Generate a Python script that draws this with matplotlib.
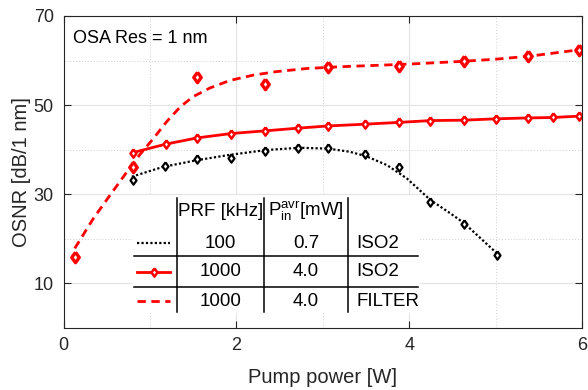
import matplotlib
matplotlib.use('Agg')
import matplotlib.pyplot as plt
from matplotlib.ticker import MultipleLocator

plt.rcParams['font.family'] = ['Liberation Sans', 'DejaVu Sans']
plt.rcParams['mathtext.fontset'] = 'custom'
plt.rcParams['mathtext.rm'] = 'Liberation Sans'
plt.rcParams['mathtext.it'] = 'Liberation Sans'

# measured points
p_iso2_100 = [0.80, 1.17, 1.54, 1.94, 2.33, 2.71, 3.06, 3.49, 3.88, 4.24, 4.63, 5.01]
osnr_iso2_100 = [33.1, 36.3, 37.9, 38.1, 39.7, 40.3, 40.3, 39.0, 36.1, 28.3, 23.3, 16.3]

p_iso2_1000 = [0.80, 1.18, 1.54, 1.94, 2.33, 2.71, 3.06, 3.49, 3.88, 4.24, 4.63, 5.00, 5.37, 5.66, 5.96]
osnr_iso2_1000 = [39.3, 41.2, 42.6, 43.6, 44.2, 44.8, 45.3, 45.7, 46.1, 46.5, 46.6, 46.9, 47.1, 47.2, 47.5]

p_filter = [0.13, 0.80, 1.54, 2.33, 3.06, 3.88, 4.63, 5.37, 5.96]
osnr_filter = [15.9, 36.1, 56.3, 54.7, 58.6, 58.8, 59.9, 61.0, 62.4]

# fitted curves
fit_x_100 = [0.79, 1.15, 1.54, 1.92, 2.35, 2.73, 3.06, 3.31, 3.50, 3.74, 3.97, 4.24, 4.47, 4.63, 5.01, 5.05]
fit_y_100 = [33.9, 36.1, 37.6, 38.8, 39.9, 40.4, 40.2, 39.5, 38.5, 36.5, 33.5, 28.7, 25.7, 23.5, 16.7, 15.5]

fit_x_filter = [0.13, 0.345, 0.54, 0.79, 0.88, 1.04, 1.19, 1.35, 1.50, 1.69, 1.92, 2.19,
                2.46, 2.81, 3.2, 3.6, 4.0, 4.6, 5.0, 5.4, 5.96]
fit_y_filter = [17.8, 24.5, 29.8, 36.5, 38.8, 42.5, 46.2, 49.6, 51.9, 53.8, 55.5, 56.7,
                57.5, 58.2, 58.6, 58.9, 59.2, 59.8, 60.3, 61.0, 62.4]

# table contents
prf = ['100', '1000', '1000']
p_avr = ['0.7', '4.0', '4.0']
setup = ['ISO2', 'ISO2', 'FILTER']

dia = [(0, 1), (0.72, 0), (0, -1), (-0.72, 0), (0, 1)]
axc = '#262626'

fig = plt.figure(figsize=(5.88, 3.90), dpi=100)
ax = fig.add_axes([0.108, 0.160, 0.8826, 0.799])

ax.plot(fit_x_100, fit_y_100, color='k', ls=(0, (1, 1)), lw=1.6)
ax.plot(p_iso2_100, osnr_iso2_100, ls='none', marker=dia, ms=6,
        mfc='white', mec='k', mew=1.6)

ax.plot(p_iso2_1000, osnr_iso2_1000, color='red', lw=2, marker=dia, ms=6,
        mfc='white', mec='red', mew=1.8)

ax.plot(fit_x_filter, fit_y_filter, color='red', ls=(0, (3, 2)), lw=2)
ax.plot(p_filter, osnr_filter, ls='none', marker=dia, ms=7.5,
        mfc='white', mec='red', mew=2.4)

ax.set_xlim(0, 6)
ax.set_ylim(0, 70)
ax.set_xticks([0, 2, 4, 6])
ax.set_yticks([10, 30, 50, 70])
ax.xaxis.set_minor_locator(MultipleLocator(1))
ax.yaxis.set_minor_locator(MultipleLocator(10))
ax.grid(True, which='major', color='#e3e3e3', lw=0.8)
ax.grid(True, which='minor', color='#cfcfcf', lw=0.7, ls=(0, (1, 2)))
ax.set_axisbelow(True)
ax.tick_params(which='major', direction='in', top=True, right=True, length=5,
               width=0.8, colors=axc, labelsize=13, pad=7)
ax.tick_params(which='minor', length=0)
for s in ax.spines.values():
    s.set_color(axc)
    s.set_linewidth(0.8)

ax.set_xlabel('Pump power [W]', fontsize=14.5, color=axc, labelpad=10)
ax.set_ylabel('OSNR [dB/1 nm]', fontsize=14.5, color=axc, labelpad=2)
ax.text(0.11, 65, 'OSA Res = 1 nm', fontsize=13, va='center', ha='left')

# table drawn in its own axes with white background
tab = fig.add_axes([132 / 588, 1 - 313 / 390, 288 / 588, 118 / 390])
tab.set_xlim(0, 1)
tab.set_ylim(0, 1)
tab.axis('off')
tab.add_patch(plt.Rectangle((0, 0), 1, 1, color='white', zorder=0))

for yy in [0.483, 0.223]:
    tab.plot([0.007, 0.993], [yy, yy], color='k', lw=1.1)
for xx in [0.156, 0.458, 0.749]:
    tab.plot([xx, xx], [0.008, 0.975], color='k', lw=1.1)

fs = 13.5
tab.text(0.307, 0.86, 'PRF [kHz]', fontsize=fs, ha='center', va='center')
tab.text(0.604, 0.86, r'$\mathrm{P}_{\mathrm{in}}^{\mathrm{avr}}$[mW]', fontsize=fs,
         ha='center', va='center')

row_y = [0.59, 0.35, 0.10]
tab.plot([0.017, 0.132], [row_y[0]] * 2, color='k', ls=(0, (1, 1)), lw=1.6)
tab.plot([0.017, 0.132], [row_y[1]] * 2, color='red', lw=2)
tab.plot([0.075], [row_y[1]], marker=dia, ms=6, mfc='white', mec='red', mew=1.8)
tab.plot([0.017, 0.132], [row_y[2]] * 2, color='red', ls=(0, (3, 2)), lw=2)

for i in range(3):
    tab.text(0.307, row_y[i], prf[i], fontsize=fs, ha='center', va='center')
    tab.text(0.604, row_y[i], p_avr[i], fontsize=fs, ha='center', va='center')
    tab.text(0.78, row_y[i], setup[i], fontsize=fs, ha='left', va='center')

fig.savefig('out.png', dpi=100)
